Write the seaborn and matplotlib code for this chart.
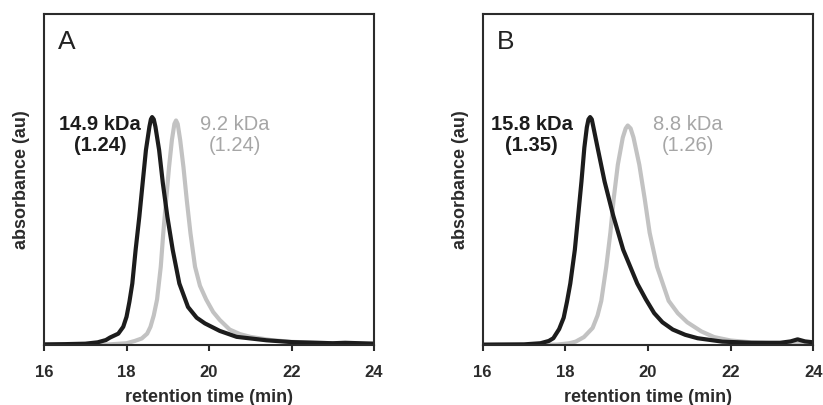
import matplotlib.pyplot as plt
import pandas as pd
import seaborn as sns

sns.set_style("ticks")
plt.rcParams['font.family'] = ['Liberation Sans', 'DejaVu Sans']

# panel A (retention time in min, absorbance scaled to the tallest peak)
a_dark_t = [16.0, 16.5, 17.0, 17.3, 17.5, 17.6, 17.8, 17.92, 18.0, 18.07, 18.14, 18.22,
            18.31, 18.39, 18.47, 18.555, 18.59, 18.62, 18.66, 18.70, 18.79, 18.88, 18.99,
            19.12, 19.28, 19.49, 19.7, 19.9, 20.26, 20.67, 21.39, 22.0, 23.0, 23.3, 24.0]
a_dark_v = [0.003, 0.004, 0.006, 0.012, 0.022, 0.033, 0.05, 0.08, 0.124, 0.19, 0.27, 0.417,
            0.563, 0.71, 0.855, 0.958, 0.99, 1.0, 0.99, 0.958, 0.855, 0.71, 0.563,
            0.417, 0.27, 0.167, 0.12, 0.095, 0.062, 0.036, 0.021, 0.013, 0.008, 0.01, 0.006]
a_light_t = [16.0, 17.5, 18.0, 18.2, 18.37, 18.5, 18.58, 18.66, 18.74, 18.83, 18.89, 18.96,
             19.03, 19.10, 19.16, 19.2, 19.24, 19.30, 19.38, 19.46, 19.55, 19.66, 19.78,
             19.93, 20.1, 20.26, 20.5, 20.75, 21.0, 21.5, 22.0, 23.0, 24.0]
a_light_v = [0.0, 0.002, 0.008, 0.018, 0.029, 0.05, 0.08, 0.13, 0.2, 0.344, 0.49, 0.636,
             0.78, 0.9, 0.97, 0.985, 0.97, 0.9, 0.78, 0.636, 0.49, 0.344, 0.26,
             0.2, 0.145, 0.11, 0.068, 0.048, 0.036, 0.022, 0.014, 0.008, 0.006]

# panel B
b_dark_t = [16.0, 17.0, 17.4, 17.6, 17.71, 17.85, 17.96, 18.04, 18.12, 18.23, 18.31, 18.39,
            18.46, 18.52, 18.56, 18.6, 18.64, 18.68, 18.78, 18.95, 19.16, 19.40, 19.74,
            19.95, 20.15, 20.35, 20.6, 20.9, 21.2, 21.8, 22.5, 23.2, 23.45, 23.62, 23.8, 24.0]
b_dark_v = [0.002, 0.003, 0.008, 0.018, 0.03, 0.07, 0.12, 0.19, 0.27, 0.418, 0.567, 0.717,
            0.866, 0.955, 0.99, 1.0, 0.99, 0.955, 0.866, 0.717, 0.567, 0.418, 0.27,
            0.2, 0.14, 0.1, 0.068, 0.045, 0.03, 0.015, 0.01, 0.01, 0.016, 0.025, 0.016, 0.012]
b_light_t = [16.0, 17.8, 18.1, 18.25, 18.45, 18.66, 18.78, 18.87, 18.99, 19.09, 19.17, 19.27,
             19.39, 19.46, 19.51, 19.58, 19.65, 19.79, 19.92, 20.04, 20.22, 20.5, 20.72,
             20.95, 21.29, 21.6, 22.0, 22.5, 23.0, 24.0]
b_light_v = [0.0, 0.002, 0.008, 0.015, 0.035, 0.075, 0.13, 0.194, 0.343, 0.493, 0.642, 0.791,
             0.91, 0.95, 0.963, 0.95, 0.91, 0.791, 0.642, 0.493, 0.343, 0.194, 0.14,
             0.1, 0.06, 0.035, 0.02, 0.012, 0.008, 0.006]

panels = ['A', 'B']
dark_labels = ['14.9 kDa\n(1.24)', '15.8 kDa\n(1.35)']
light_labels = ['9.2 kDa\n(1.24)', '8.8 kDa\n(1.26)']
dark_label_x = [17.36, 17.19]
light_label_x = [20.62, 20.97]
xticks = [16, 18, 20, 22, 24]

DARK = '#1c1c1c'
LIGHT = '#c2c2c2'
LIGHT_TEXT = '#a6a6a6'
AXIS = '#2b2b2b'

curves = [
    (a_dark_t, a_dark_v, a_light_t, a_light_v),
    (b_dark_t, b_dark_v, b_light_t, b_light_v),
]

fig = plt.figure(figsize=(8.23, 4.05), dpi=100)
axes = [fig.add_axes([0.0535, 0.148, 0.401, 0.8174]),
        fig.add_axes([0.5865, 0.148, 0.4017, 0.8174])]

for i, ax in enumerate(axes):
    dt, dv, lt, lv = curves[i]
    df = pd.concat([
        pd.DataFrame({'time': lt, 'abs': lv, 'sample': 'light'}),
        pd.DataFrame({'time': dt, 'abs': dv, 'sample': 'dark'}),
    ])
    sns.lineplot(data=df, x='time', y='abs', hue='sample', hue_order=['light', 'dark'],
                 palette={'light': LIGHT, 'dark': DARK}, linewidth=3,
                 estimator=None, legend=False, ax=ax)

    ax.set_xlim(16, 24)
    ax.set_ylim(0, 1.452)
    ax.set_xticks(xticks)
    ax.set_yticks([])
    ax.tick_params(axis='x', direction='out', length=4, width=1.5, color=AXIS,
                   labelsize=12, labelcolor=AXIS, pad=10.5)
    for lab in ax.get_xticklabels():
        lab.set_fontweight('bold')
    for sp in ax.spines.values():
        sp.set_visible(True)
        sp.set_color(AXIS)
        sp.set_linewidth(1.5)

    ax.set_xlabel('retention time (min)', fontsize=13, fontweight='bold', color=AXIS, labelpad=6)
    ax.set_ylabel('absorbance (au)', fontsize=13, fontweight='bold', color=AXIS, labelpad=10)

    ax.text(0.07, 0.915, panels[i], transform=ax.transAxes, fontsize=19,
            ha='center', va='center', color='#222222')
    ax.text(dark_label_x[i], 0.92, dark_labels[i], fontsize=14.5, fontweight='bold',
            ha='center', va='center', color=DARK, linespacing=1.15)
    ax.text(light_label_x[i], 0.92, light_labels[i], fontsize=14.5,
            ha='center', va='center', color=LIGHT_TEXT, linespacing=1.15)

fig.savefig('out.png', dpi=100)
